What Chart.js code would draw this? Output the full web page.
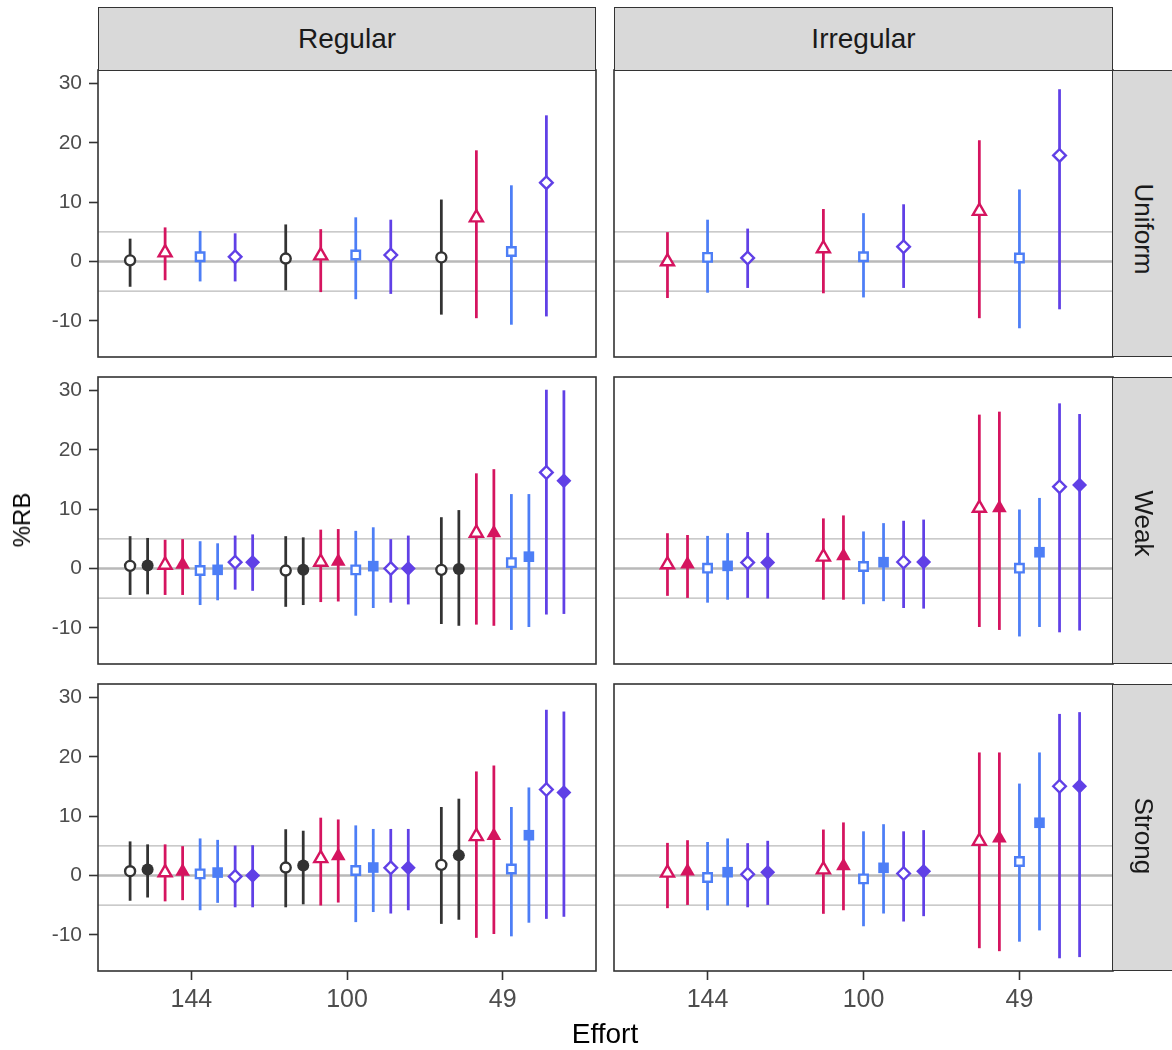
<!DOCTYPE html>
<html>
<head>
<meta charset="utf-8">
<script src="https://cdn.jsdelivr.net/npm/chart.js@4.4.1/dist/chart.umd.min.js"></script>
<style>
body{margin:0;background:#fff;font-family:"Liberation Sans",Arial,sans-serif}
#wrap{position:relative;width:1172px;height:1050px;overflow:hidden}
.strip{position:absolute;background:#d9d9d9;border:1.5px solid #333;box-sizing:border-box;color:#1a1a1a;font-size:28px;display:flex;align-items:center;justify-content:center}
.strip.side{font-size:26px}
.strip.side span{transform:rotate(90deg);white-space:nowrap}
.holder{position:absolute}
.title{position:absolute;color:#000;white-space:nowrap}
</style>
</head>
<body>
<div id="wrap"></div>
<script>
// facets and axis
const efforts = ['144', '100', '49'];
const designs = ['Regular', 'Irregular'];
const structures = ['Uniform', 'Weak', 'Strong'];
const yTicks = [-10, 0, 10, 20, 30];
const refLines = [-5, 0, 5];

// rows = groups (open circle, filled circle, open tri, filled tri, open sq, filled sq, open dia, filled dia)
// cols = efforts 144, 100, 49
const regUniformEst = [[0.2,0.5,0.7], null, [1.5,1.0,7.4], null, [0.8,1.1,1.7], null, [0.8,1.1,13.3], null];
const regUniformLo  = [[-4.2,-4.8,-8.9], null, [-3.1,-5.1,-9.5], null, [-3.3,-6.3,-10.6], null, [-3.3,-5.4,-9.2], null];
const regUniformHi  = [[3.8,6.2,10.4], null, [5.7,5.4,18.7], null, [5.1,7.4,12.8], null, [4.7,7.0,24.6], null];

const irrUniformEst = [null, null, [0.0,2.2,8.5], null, [0.7,0.8,0.6], null, [0.6,2.5,17.9], null];
const irrUniformLo  = [null, null, [-6.1,-5.3,-9.5], null, [-5.2,-6.0,-11.2], null, [-4.4,-4.4,-8.0], null];
const irrUniformHi  = [null, null, [4.9,8.8,20.4], null, [7.0,8.1,12.1], null, [5.5,9.6,29.0], null];

const regWeakEst = [[0.45,-0.34,-0.22], [0.5,-0.22,-0.06], [0.6,1.1,6.0], [0.7,1.2,6.0], [-0.34,-0.22,1.0], [-0.22,0.4,2.0], [1.07,0.0,16.2], [1.07,0.0,14.8]];
const regWeakLo  = [[-4.4,-6.4,-9.3], [-4.3,-6.1,-9.6], [-4.4,-5.6,-9.4], [-4.4,-5.5,-9.6], [-6.1,-7.9,-10.3], [-5.3,-6.6,-9.8], [-3.5,-5.7,-7.7], [-3.7,-6.0,-7.6]];
const regWeakHi  = [[5.4,5.4,8.6], [5.1,5.2,9.8], [4.8,6.5,16.0], [4.9,6.6,16.7], [4.55,6.3,12.5], [4.2,6.9,12.5], [5.5,4.9,30.1], [5.7,5.5,30.0]];

const irrWeakEst = [null, null, [0.67,1.97,10.2], [0.73,2.1,10.2], [0.06,0.34,0.06], [0.45,1.07,2.75], [1.0,1.1,13.8], [1.0,1.1,14.1]];
const irrWeakLo  = [null, null, [-4.55,-5.2,-9.8], [-4.9,-5.2,-10.3], [-5.7,-5.96,-11.4], [-5.2,-5.45,-9.8], [-4.9,-6.6,-10.7], [-5.0,-6.7,-10.4]];
const irrWeakHi  = [null, null, [5.9,8.4,25.9], [5.6,8.9,26.4], [5.45,6.2,9.9], [5.9,7.6,11.85], [6.1,8.0,27.8], [5.96,8.2,26.0]];

const regStrongEst = [[0.73,1.35,1.8], [1.0,1.7,3.4], [0.5,2.9,6.6], [0.67,3.3,6.7], [0.28,0.84,1.1], [0.5,1.35,6.8], [-0.17,1.3,14.5], [0.0,1.3,14.0]];
const regStrongLo  = [[-4.2,-5.3,-8.1], [-3.65,-4.8,-7.4], [-4.3,-5.0,-10.45], [-4.1,-4.5,-9.8], [-5.8,-7.8,-10.2], [-4.55,-6.1,-7.9], [-5.3,-6.35,-7.25], [-5.3,-5.8,-6.9]];
const regStrongHi  = [[5.7,7.75,11.5], [5.2,7.5,12.9], [5.2,9.7,17.5], [4.9,9.4,18.5], [6.2,8.4,11.5], [5.96,7.8,14.8], [5.0,7.8,27.9], [5.06,7.8,27.6]];

const irrStrongEst = [null, null, [0.45,1.0,5.8], [0.73,1.6,6.3], [-0.34,-0.56,2.36], [0.56,1.3,8.9], [0.22,0.34,15.06], [0.56,0.73,15.06]];
const irrStrongLo  = [null, null, [-5.45,-6.4,-12.2], [-4.9,-5.8,-12.7], [-5.8,-8.5,-11.1], [-5.0,-6.35,-9.2], [-5.3,-7.7,-13.9], [-4.9,-6.8,-13.7]];
const irrStrongHi  = [null, null, [5.45,7.7,20.7], [5.9,8.9,20.7], [5.6,7.4,15.45], [6.2,8.6,20.7], [5.4,7.4,27.2], [5.8,7.6,27.5]];

const panels = [
  [[regUniformEst, regUniformLo, regUniformHi], [irrUniformEst, irrUniformLo, irrUniformHi]],
  [[regWeakEst, regWeakLo, regWeakHi], [irrWeakEst, irrWeakLo, irrWeakHi]],
  [[regStrongEst, regStrongLo, regStrongHi], [irrStrongEst, irrStrongLo, irrStrongHi]]
];

// look of each group
const DARK = '#333333', PINK = '#D5145F', BLUE = '#4D7EF6', PURP = '#6040E6';
const groupLook = [
  {shape: 'circle',   color: DARK, open: true,  r: 5},
  {shape: 'circle',   color: DARK, open: false, r: 6},
  {shape: 'triangle', color: PINK, open: true,  r: 7.5},
  {shape: 'triangle', color: PINK, open: false, r: 8.5},
  {shape: 'rect',     color: BLUE, open: true,  r: 6},
  {shape: 'rect',     color: BLUE, open: false, r: 7.5},
  {shape: 'rectRot',  color: PURP, open: true,  r: 6.3},
  {shape: 'rectRot',  color: PURP, open: false, r: 7.5}
];
// dodge slots per column: number of slots and first group index
const dodge = [{n: 8, first: 0}, {n: 7, first: 1}];

const colLeft = [98, 614], colW = [498, 499];
const rowTop = [70, 377, 684], rowH = 287;
const Y_AXIS_W = 98, X_AXIS_H = 60, P = 2;
const FONT = '"Liberation Sans", Arial, sans-serif';

const wrap = document.getElementById('wrap');

const deco = {
  id: 'deco',
  beforeDatasetsDraw(chart) {
    const {ctx, chartArea: a, scales: {y}} = chart;
    ctx.save();
    refLines.forEach(v => {
      const py = y.getPixelForValue(v);
      ctx.strokeStyle = '#b9b9b9';
      ctx.lineWidth = v === 0 ? 2.6 : 1.2;
      ctx.beginPath(); ctx.moveTo(a.left, py); ctx.lineTo(a.right, py); ctx.stroke();
    });
    ctx.restore();
  },
  afterDraw(chart) {
    const {ctx, chartArea: a} = chart;
    ctx.save();
    ctx.strokeStyle = '#333'; ctx.lineWidth = 1.6;
    ctx.strokeRect(a.left, a.top, a.right - a.left, a.bottom - a.top);
    ctx.restore();
  }
};

function noPad(s) {
  s.paddingTop = 0; s.paddingBottom = 0; s.paddingLeft = 0; s.paddingRight = 0;
}

function addDiv(cls, css, html) {
  const d = document.createElement('div');
  d.className = cls; d.style.cssText = css; d.innerHTML = html;
  wrap.appendChild(d);
  return d;
}

for (let r = 0; r < 3; r++) {
  for (let c = 0; c < 2; c++) {
    const [est, lo, hi] = panels[r][c];
    const datasets = [];
    est.forEach((vals, g) => {
      if (!vals) return;
      const look = groupLook[g];
      const slot = g - dodge[c].first;
      const off = (slot - (dodge[c].n - 1) / 2) * 0.9 / dodge[c].n;
      datasets.push({
        type: 'bar',
        data: vals.map((v, i) => ({x: i + 1 + off, y: [lo[g][i], hi[g][i]]})),
        backgroundColor: look.color,
        barThickness: 2.1,
        grouped: false,
        borderWidth: 0,
        order: 2
      });
      datasets.push({
        type: 'scatter',
        data: vals.map((v, i) => ({x: i + 1 + off, y: v})),
        pointStyle: look.shape,
        pointRadius: look.r,
        pointBackgroundColor: look.open ? '#ffffff' : look.color,
        pointBorderColor: look.color,
        pointBorderWidth: look.open ? 2.4 : 0,
        showLine: false,
        order: 1
      });
    });

    const showY = c === 0, showX = r === 2;
    const left = showY ? 0 : colLeft[c] - P;
    const width = colW[c] + P + (showY ? Y_AXIS_W : P);
    const top = rowTop[r] - P;
    const height = rowH + P + (showX ? X_AXIS_H : P);
    const holder = addDiv('holder', `left:${left}px;top:${top}px;width:${width}px;height:${height}px`, '');
    const cv = document.createElement('canvas');
    cv.width = width; cv.height = height;
    holder.appendChild(cv);

    new Chart(cv, {
      type: 'bar',
      data: {datasets},
      options: {
        responsive: false,
        animation: false,
        devicePixelRatio: 1,
        layout: {padding: {left: showY ? 0 : P, right: P, top: P, bottom: showX ? 0 : P}, autoPadding: false},
        plugins: {legend: {display: false}, tooltip: {enabled: false}},
        scales: {
          x: {
            type: 'linear', min: 0.4, max: 3.6, offset: false,
            display: showX,
            afterBuildTicks: s => { s.ticks = efforts.map((e, i) => ({value: i + 1})); },
            afterFit: s => { s.height = showX ? X_AXIS_H : 0; noPad(s); },
            ticks: {callback: v => efforts[v - 1], color: '#4d4d4d', font: {size: 25, family: FONT}, padding: 5, maxRotation: 0},
            grid: {display: true, drawOnChartArea: false, drawTicks: true, tickLength: 9, tickColor: '#333', tickWidth: 1.6, offset: false},
            border: {display: false}
          },
          y: {
            type: 'linear', min: -16.1, max: 32.3,
            display: showY,
            afterBuildTicks: s => { s.ticks = yTicks.map(v => ({value: v})); },
            afterFit: s => { s.width = showY ? Y_AXIS_W : 0; noPad(s); },
            ticks: {callback: v => String(v), color: '#4d4d4d', font: {size: 21, family: FONT}, padding: 7},
            grid: {display: true, drawOnChartArea: false, drawTicks: true, tickLength: 9, tickColor: '#333', tickWidth: 1.6},
            border: {display: false}
          }
        }
      },
      plugins: [deco]
    });
  }
}

// strips
designs.forEach((d, c) => {
  addDiv('strip', `left:${colLeft[c]}px;top:7px;width:${colW[c]}px;height:64px`, d);
});
structures.forEach((s, r) => {
  addDiv('strip side', `left:1112px;top:${rowTop[r]}px;width:80px;height:${rowH}px;justify-content:flex-start`,
    `<span style="display:inline-block;width:60px;text-align:center">${s}</span>`);
});

// axis titles
addDiv('title', 'left:605px;top:1018px;transform:translateX(-50%);font-size:28px', 'Effort');
addDiv('title', 'left:22px;top:520px;transform:translate(-50%,-50%) rotate(-90deg);font-size:24px', '%RB');
</script>
</body>
</html>
